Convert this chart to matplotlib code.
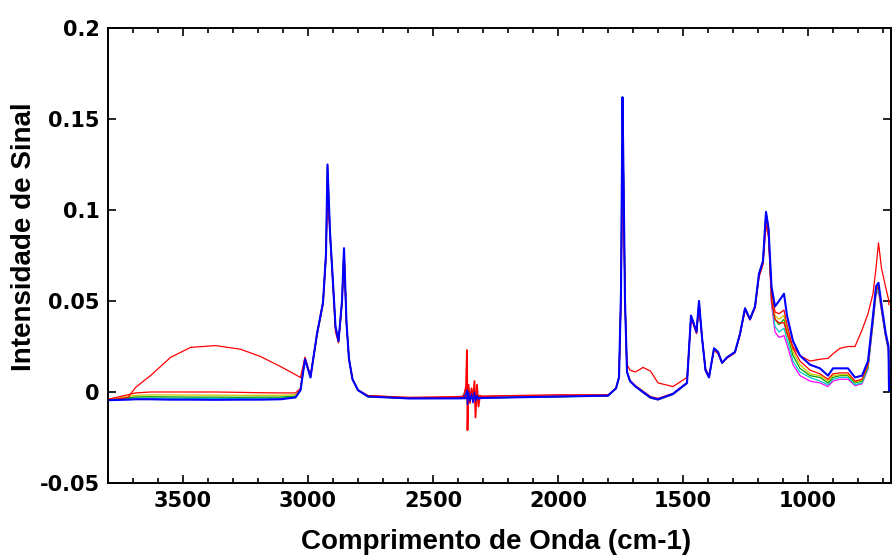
"""
Espectros FTIR sobrepostos: intensidade de sinal vs comprimento de onda.
"""
import matplotlib
matplotlib.use("Agg")
import matplotlib.pyplot as plt
from matplotlib.ticker import MultipleLocator, FixedLocator

# eixo x comum (cm-1), decrescente
wn = [3800, 3720, 3690, 3630, 3550, 3470, 3370, 3270, 3190, 3110, 3050,
      3030, 3012, 2990, 2964, 2940, 2928, 2922, 2912, 2900, 2890, 2878, 2864, 2856, 2846, 2836, 2822, 2800, 2760,
      2600, 2400, 2200, 2000, 1800,
      1768, 1756, 1748, 1742, 1738, 1732, 1724, 1712, 1690, 1660, 1630, 1600, 1540, 1484,
      1468, 1458, 1446, 1436, 1424, 1410, 1396, 1376, 1360, 1344, 1324, 1292,
      1272, 1252, 1232, 1212, 1196, 1180, 1168, 1158, 1146, 1132, 1116, 1096, 1084,
      1060, 1032, 992, 952, 920, 900, 872, 840, 812, 784, 760, 740, 728, 718, 706, 690, 678, 676]

blue = [-0.0045, -0.0042, -0.0040, -0.0040, -0.0042, -0.0042, -0.0043, -0.0042, -0.0042, -0.0040, -0.0030,
        0.0010, 0.0180, 0.0080, 0.0320, 0.0490, 0.0760, 0.1250, 0.0880, 0.0600, 0.0360, 0.0280, 0.0500, 0.0790, 0.0380, 0.0180, 0.0070, 0.0010, -0.0025,
        -0.0035, -0.0035, -0.0030, -0.0025, -0.0020,
        0.0020, 0.0080, 0.0550, 0.1620, 0.1200, 0.0500, 0.0110, 0.0060, 0.0030, 0.0000, -0.0030, -0.0040, -0.0010, 0.0050,
        0.0420, 0.0380, 0.0330, 0.0500, 0.0300, 0.0120, 0.0080, 0.0240, 0.0220, 0.0160, 0.0190, 0.0220,
        0.0320, 0.0460, 0.0400, 0.0470, 0.0650, 0.0720, 0.0990, 0.0900, 0.0580, 0.0470, 0.0500, 0.0540, 0.0420,
        0.0280, 0.0200, 0.0150, 0.0130, 0.0090, 0.0130, 0.0130, 0.0130, 0.0080, 0.0090, 0.0170, 0.0420, 0.0580, 0.0600, 0.0480, 0.0330, 0.0250, 0.0010]

# amostra com banda larga em 3400 (umidade)
red_a = [-0.0045, -0.0030, 0.0025, 0.0090, 0.0190, 0.0245, 0.0255, 0.0235, 0.0195, 0.0140, 0.0095,
         0.0080, 0.0190, 0.0090, 0.0320, 0.0500, 0.0750, 0.1120, 0.0860, 0.0580, 0.0330, 0.0270, 0.0480, 0.0740, 0.0370, 0.0180, 0.0070, 0.0010, -0.0020,
         -0.0030, -0.0025, -0.0020, -0.0015, -0.0015,
         0.0020, 0.0080, 0.0500, 0.1200, 0.1100, 0.0500, 0.0150, 0.0120, 0.0110, 0.0135, 0.0115, 0.0050, 0.0030, 0.0080,
         0.0400, 0.0370, 0.0320, 0.0470, 0.0300, 0.0130, 0.0090, 0.0230, 0.0210, 0.0160, 0.0190, 0.0220,
         0.0310, 0.0450, 0.0400, 0.0460, 0.0630, 0.0700, 0.0920, 0.0850, 0.0500, 0.0400, 0.0380, 0.0380, 0.0320,
         0.0250, 0.0200, 0.0170, 0.0180, 0.0185, 0.0210, 0.0240, 0.0250, 0.0250, 0.0340, 0.0430, 0.0540, 0.0680, 0.0820, 0.0680, 0.0580, 0.0510, 0.0480]

red_b = [-0.0040, -0.0015, -0.0005, 0.0000, 0.0000, 0.0000, 0.0000, -0.0002, -0.0004, -0.0005, -0.0005,
         0.0020, 0.0190, 0.0085, 0.0310, 0.0480, 0.0740, 0.1150, 0.0870, 0.0590, 0.0350, 0.0275, 0.0490, 0.0770, 0.0375, 0.0180, 0.0070, 0.0012, -0.0020,
         -0.0030, -0.0030, -0.0020, -0.0022, -0.0020,
         0.0020, 0.0080, 0.0520, 0.1450, 0.1150, 0.0500, 0.0110, 0.0065, 0.0035, 0.0005, -0.0025, -0.0035, -0.0008, 0.0050,
         0.0410, 0.0375, 0.0325, 0.0480, 0.0300, 0.0120, 0.0080, 0.0235, 0.0215, 0.0160, 0.0185, 0.0215,
         0.0315, 0.0455, 0.0395, 0.0465, 0.0640, 0.0710, 0.0960, 0.0880, 0.0560, 0.0440, 0.0430, 0.0450, 0.0370,
         0.0240, 0.0170, 0.0120, 0.0100, 0.0070, 0.0100, 0.0105, 0.0105, 0.0060, 0.0070, 0.0150, 0.0400, 0.0560, 0.0580, 0.0460, 0.0320, 0.0240, 0.0010]

yellow = [-0.0042, -0.0025, -0.0018, -0.0016, -0.0016, -0.0017, -0.0017, -0.0018, -0.0018, -0.0018, -0.0015,
          0.0015, 0.0185, 0.0082, 0.0315, 0.0485, 0.0750, 0.1240, 0.0875, 0.0595, 0.0355, 0.0278, 0.0495, 0.0785, 0.0378, 0.0180, 0.0070, 0.0010, -0.0025,
          -0.0035, -0.0033, -0.0028, -0.0025, -0.0020,
          0.0020, 0.0080, 0.0540, 0.1550, 0.1180, 0.0500, 0.0110, 0.0060, 0.0030, 0.0000, -0.0030, -0.0040, -0.0010, 0.0050,
          0.0415, 0.0378, 0.0328, 0.0490, 0.0300, 0.0120, 0.0080, 0.0238, 0.0218, 0.0160, 0.0188, 0.0218,
          0.0318, 0.0458, 0.0398, 0.0468, 0.0645, 0.0715, 0.0975, 0.0890, 0.0540, 0.0420, 0.0400, 0.0420, 0.0350,
          0.0220, 0.0150, 0.0100, 0.0090, 0.0060, 0.0090, 0.0095, 0.0095, 0.0055, 0.0065, 0.0145, 0.0405, 0.0565, 0.0585, 0.0465, 0.0320, 0.0240, 0.0010]

green = [-0.0044, -0.0032, -0.0027, -0.0026, -0.0027, -0.0028, -0.0028, -0.0029, -0.0028, -0.0028, -0.0022,
         0.0012, 0.0183, 0.0081, 0.0318, 0.0488, 0.0755, 0.1220, 0.0878, 0.0598, 0.0358, 0.0279, 0.0498, 0.0788, 0.0379, 0.0180, 0.0070, 0.0010, -0.0025,
         -0.0035, -0.0034, -0.0030, -0.0026, -0.0021,
         0.0020, 0.0080, 0.0545, 0.1500, 0.1190, 0.0500, 0.0110, 0.0060, 0.0030, -0.0002, -0.0032, -0.0042, -0.0012, 0.0048,
         0.0418, 0.0379, 0.0329, 0.0495, 0.0300, 0.0120, 0.0080, 0.0239, 0.0219, 0.0160, 0.0189, 0.0219,
         0.0319, 0.0459, 0.0399, 0.0469, 0.0648, 0.0718, 0.0980, 0.0895, 0.0520, 0.0400, 0.0370, 0.0400, 0.0330,
         0.0200, 0.0130, 0.0090, 0.0080, 0.0050, 0.0080, 0.0090, 0.0090, 0.0050, 0.0060, 0.0140, 0.0400, 0.0555, 0.0575, 0.0460, 0.0315, 0.0235, 0.0010]

cyan = [-0.0046, -0.0036, -0.0033, -0.0033, -0.0034, -0.0035, -0.0035, -0.0035, -0.0034, -0.0034, -0.0026,
        0.0011, 0.0182, 0.0080, 0.0319, 0.0489, 0.0758, 0.1230, 0.0879, 0.0599, 0.0359, 0.0280, 0.0499, 0.0789, 0.0380, 0.0180, 0.0070, 0.0010, -0.0025,
        -0.0036, -0.0035, -0.0030, -0.0026, -0.0021,
        0.0020, 0.0080, 0.0548, 0.1400, 0.1195, 0.0500, 0.0110, 0.0060, 0.0030, -0.0003, -0.0033, -0.0043, -0.0013, 0.0047,
        0.0419, 0.0380, 0.0330, 0.0498, 0.0300, 0.0120, 0.0080, 0.0240, 0.0220, 0.0160, 0.0190, 0.0220,
        0.0320, 0.0460, 0.0400, 0.0470, 0.0650, 0.0720, 0.0985, 0.0898, 0.0500, 0.0360, 0.0330, 0.0350, 0.0290,
        0.0170, 0.0110, 0.0080, 0.0060, 0.0040, 0.0070, 0.0080, 0.0080, 0.0040, 0.0050, 0.0130, 0.0380, 0.0540, 0.0560, 0.0450, 0.0310, 0.0230, 0.0010]

magenta = [-0.0047, -0.0039, -0.0038, -0.0038, -0.0039, -0.0040, -0.0040, -0.0040, -0.0039, -0.0038, -0.0029,
           0.0010, 0.0181, 0.0080, 0.0320, 0.0490, 0.0759, 0.1245, 0.0880, 0.0600, 0.0360, 0.0280, 0.0500, 0.0790, 0.0380, 0.0180, 0.0070, 0.0010, -0.0025,
           -0.0036, -0.0035, -0.0030, -0.0025, -0.0021,
           0.0020, 0.0080, 0.0550, 0.1300, 0.1198, 0.0500, 0.0110, 0.0060, 0.0030, -0.0004, -0.0034, -0.0044, -0.0014, 0.0046,
           0.0420, 0.0380, 0.0330, 0.0500, 0.0300, 0.0120, 0.0080, 0.0240, 0.0220, 0.0160, 0.0190, 0.0220,
           0.0320, 0.0460, 0.0400, 0.0470, 0.0650, 0.0720, 0.0988, 0.0899, 0.0480, 0.0330, 0.0300, 0.0310, 0.0260,
           0.0150, 0.0090, 0.0060, 0.0050, 0.0030, 0.0060, 0.0070, 0.0070, 0.0035, 0.0045, 0.0125, 0.0375, 0.0535, 0.0555, 0.0445, 0.0305, 0.0225, 0.0010]

# artefato de CO2 perto de 2360 cm-1
co2_wn = [2390, 2376, 2368, 2364, 2362, 2358, 2352, 2346, 2340, 2334, 2330, 2324, 2318, 2312, 2300]
co2_red = [-0.0030, -0.0020, 0.0030, 0.0230, -0.0210, 0.0040, -0.0060, 0.0020, -0.0040, 0.0060, -0.0140, 0.0040, -0.0080, -0.0020, -0.0030]
co2_cyan = [-0.0035, -0.0010, 0.0020, 0.0030, -0.0060, 0.0030, -0.0040, 0.0020, -0.0050, 0.0030, -0.0030, 0.0010, -0.0040, -0.0030, -0.0035]
co2_blue = [-0.0035, -0.0030, -0.0010, 0.0010, -0.0070, 0.0000, -0.0050, -0.0010, -0.0060, 0.0000, -0.0050, -0.0020, -0.0040, -0.0035, -0.0035]

y_ticks = [-0.05, 0, 0.05, 0.1, 0.15, 0.2]
y_labels = ["-0.05", "0", "0.05", "0.1", "0.15", "0.2"]
x_ticks = [3500, 3000, 2500, 2000, 1500, 1000]

fig = plt.figure(figsize=(8.92, 5.57), dpi=100)
ax = fig.add_axes([108 / 892, 74 / 557, 783 / 892, 455 / 557])

thin = 0.9
for ys, c in [(magenta, "#ff00ff"), (cyan, "#00c8c8"), (green, "#00a000"),
              (yellow, "#c8c800"), (red_b, "#ff0000")]:
    ax.plot(wn, ys, color=c, lw=thin)
ax.plot(co2_wn, co2_cyan, color="#00c8c8", lw=thin)
ax.plot(wn, red_a, color="#ff0000", lw=thin)
ax.plot(co2_wn, co2_red, color="#ff0000", lw=1.3)
ax.plot(wn, blue, color="#0000ff", lw=1.5)
ax.plot(co2_wn, co2_blue, color="#0000ff", lw=1.0)

ax.set_xlim(3800, 668)
ax.set_ylim(-0.05, 0.2)
ax.xaxis.set_major_locator(FixedLocator(x_ticks))
ax.xaxis.set_minor_locator(MultipleLocator(100))
ax.set_yticks(y_ticks)
ax.set_yticklabels(y_labels)

for s in ax.spines.values():
    s.set_linewidth(1.4)
ax.tick_params(which="both", direction="in", top=True, right=True, width=1.2)
ax.tick_params(which="major", length=6, pad=6)
ax.tick_params(which="minor", length=3.5)
for lab in ax.get_xticklabels() + ax.get_yticklabels():
    lab.set_fontfamily("DejaVu Sans")
    lab.set_fontweight("bold")
    lab.set_fontsize(15)

fig.text(496 / 892, (557 - 542) / 557, "Comprimento de Onda (cm-1)", ha="center", va="center",
         fontsize=20, fontweight="bold", family="Liberation Sans")
fig.text(24 / 892, (557 - 237) / 557, "Intensidade de Sinal", ha="center", va="center",
         rotation=90, fontsize=20, fontweight="bold", family="Liberation Sans")

fig.savefig("out.png", dpi=100)
